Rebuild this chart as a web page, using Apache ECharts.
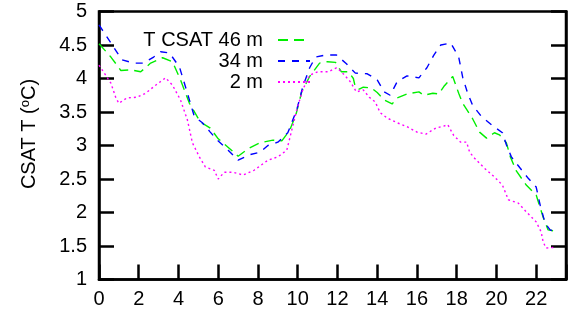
<!DOCTYPE html>
<html>
<head>
<meta charset="utf-8">
<script src="https://cdn.jsdelivr.net/npm/echarts@6/dist/echarts.min.js"></script>
<style>
html,body{margin:0;padding:0;background:#fff;}
#chart{width:569px;height:315px;}
</style>
</head>
<body>
<div id="chart"></div>
<script>
// Hour of day for each series
const hours46 = [0,0.6,1.1,1.6,2.1,2.6,3.2,3.7,4.1,4.55,5.1,5.6,6.0,6.55,7.0,7.55,8.1,8.75,9.2,9.6,9.9,10.2,10.6,11.1,11.5,11.9,12.2,12.55,12.8,12.9,13.1,13.3,13.7,14.0,14.35,14.75,15.0,15.5,16.1,16.35,16.8,17.1,17.35,17.8,18.1,18.3,18.5,18.8,19.15,19.5,19.9,20.15,20.5,20.7,21.0,21.5,22.0,22.35,22.6,23.0];
const temp46  = [4.52,4.32,4.12,4.13,4.10,4.23,4.31,4.25,3.98,3.63,3.35,3.26,3.10,2.96,2.84,2.96,3.04,3.08,3.07,3.23,3.45,3.80,4.03,4.23,4.25,4.24,4.10,4.10,4.00,3.87,3.84,3.87,3.86,3.79,3.68,3.62,3.71,3.77,3.80,3.75,3.78,3.77,3.88,4.03,3.78,3.63,3.54,3.40,3.20,3.11,3.19,3.16,3.04,2.83,2.62,2.41,2.26,1.93,1.74,1.72];

const hours34 = [0,0.6,1.15,1.75,2.25,2.75,3.1,3.55,4.05,4.45,4.8,5.2,5.6,5.95,6.5,7.0,7.55,8.1,8.5,9.0,9.5,9.95,10.25,10.6,10.9,11.4,11.95,12.45,12.9,13.5,14.0,14.35,14.65,15.0,15.5,16.1,16.5,16.85,17.2,17.7,18.1,18.3,18.55,18.8,19.25,19.75,20.3,20.5,20.75,21.2,21.6,22.0,22.2,22.45,22.7,23.0];
const temp34  = [4.80,4.53,4.28,4.23,4.23,4.32,4.40,4.38,4.17,3.78,3.43,3.34,3.20,3.08,2.93,2.78,2.86,2.90,3.00,3.05,3.19,3.53,3.87,4.16,4.32,4.35,4.35,4.22,4.08,4.07,3.98,3.80,3.75,3.95,4.04,4.01,4.16,4.35,4.50,4.53,4.32,4.02,3.78,3.60,3.43,3.31,3.19,3.01,2.83,2.66,2.51,2.38,2.11,1.84,1.74,1.71];

const hours2 = [0,0.6,0.85,1.0,1.4,1.9,2.35,2.85,3.35,3.7,4.1,4.45,4.7,5.05,5.35,5.8,6.0,6.3,6.75,7.25,7.8,8.5,9.0,9.45,9.7,9.95,10.25,10.6,11.0,11.55,11.95,12.2,12.65,12.95,13.3,13.6,13.9,14.15,14.5,15.0,15.5,16.0,16.45,16.95,17.35,17.55,17.85,18.2,18.5,18.65,18.9,19.4,19.9,20.3,20.6,21.1,21.5,22.0,22.25,22.35,22.5,23.0];
const temp2  = [4.20,3.93,3.71,3.63,3.71,3.72,3.78,3.90,4.01,3.90,3.68,3.38,3.04,2.83,2.68,2.63,2.50,2.60,2.60,2.56,2.63,2.78,2.83,2.93,3.23,3.53,3.83,4.05,4.10,4.10,4.16,4.10,3.95,3.80,3.83,3.72,3.65,3.49,3.41,3.34,3.28,3.20,3.17,3.26,3.29,3.31,3.15,3.05,3.05,2.90,2.81,2.66,2.53,2.41,2.19,2.14,2.01,1.86,1.71,1.56,1.47,1.48];

const seriesNames = ['T CSAT 46 m', '34 m', '2 m'];
const xTicks = [0,2,4,6,8,10,12,14,16,18,20,22];
const yTicks = [1,1.5,2,2.5,3,3.5,4,4.5,5];

const pairs = (h, v) => h.map((x, i) => [x, v[i]]);
const FONT = 'Liberation Sans, Arial, Helvetica, sans-serif';

const chart = echarts.init(document.getElementById('chart'), null, {renderer: 'canvas'});

const legendCommon = {
  orient: 'vertical',
  align: 'right',
  right: 258,
  padding: 0,
  itemWidth: 32,
  itemHeight: 14,
  itemGap: 0,
  selectedMode: false,
  itemStyle: {opacity: 0, borderWidth: 0},
  textStyle: {fontFamily: FONT, fontSize: 20, color: '#000', padding: [0, 10, 0, 0], lineHeight: 20}
};

chart.setOption({
  animation: false,
  backgroundColor: '#fff',
  grid: {left: 99, top: 11.5, width: 479, height: 268, show: true, borderColor: '#000', borderWidth: 2.5, backgroundColor: 'transparent'},
  legend: [
    Object.assign({}, legendCommon, {top: 30, data: [seriesNames[0]]}),
    Object.assign({}, legendCommon, {top: 51, data: [seriesNames[1]]}),
    Object.assign({}, legendCommon, {top: 72, data: [seriesNames[2]]})
  ],
  xAxis: {
    type: 'value', min: 0, max: 23.5, interval: 2,
    axisLine: {show: true, onZero: false, lineStyle: {color: '#000', width: 2.5}},
    axisTick: {show: true, inside: true, length: 15, lineStyle: {color: '#000', width: 2.5}},
    axisLabel: {fontFamily: FONT, fontSize: 20, color: '#000', margin: 10,
      formatter: v => xTicks.indexOf(v) >= 0 ? String(v) : ''},
    splitLine: {show: false}
  },
  yAxis: [{
    type: 'value', min: 1, max: 5, interval: 0.5, position: 'left',
    axisLine: {show: true, onZero: false, lineStyle: {color: '#000', width: 2.5}},
    axisTick: {show: true, inside: true, length: 15, lineStyle: {color: '#000', width: 2.5}},
    axisLabel: {fontFamily: FONT, fontSize: 20, color: '#000', margin: 12,
      formatter: v => yTicks.indexOf(v) >= 0 ? String(v) : ''},
    splitLine: {show: false}
  }, {
    type: 'value', min: 1, max: 5, interval: 0.5, position: 'right',
    axisLine: {show: true, onZero: false, lineStyle: {color: '#000', width: 2.5}},
    axisTick: {show: true, inside: true, length: 15, lineStyle: {color: '#000', width: 2.5}},
    axisLabel: {show: false},
    splitLine: {show: false}
  }],
  graphic: [{
    type: 'text', x: 29, y: 134, rotation: Math.PI / 2,
    style: {
      text: '{a|CSAT T (}{b|o}{a|C)}',
      align: 'center', verticalAlign: 'middle',
      rich: {
        a: {fontFamily: FONT, fontSize: 20, fill: '#000', color: '#000'},
        b: {fontFamily: FONT, fontSize: 13, fill: '#000', color: '#000', verticalAlign: 'top'}
      }
    }
  }],
  series: [
    {name: seriesNames[0], type: 'line', data: pairs(hours46, temp46), symbol: 'none',
     lineStyle: {color: '#00ee00', width: 1.4, type: [10, 6]}, itemStyle: {color: '#00ee00'}},
    {name: seriesNames[1], type: 'line', data: pairs(hours34, temp34), symbol: 'none',
     lineStyle: {color: '#0000ff', width: 1.4, type: [7, 7]}, itemStyle: {color: '#0000ff'}},
    {name: seriesNames[2], type: 'line', data: pairs(hours2, temp2), symbol: 'none',
     lineStyle: {color: '#ff00ff', width: 1.4, type: [2, 3]}, itemStyle: {color: '#ff00ff'}}
  ]
});
</script>
</body>
</html>
